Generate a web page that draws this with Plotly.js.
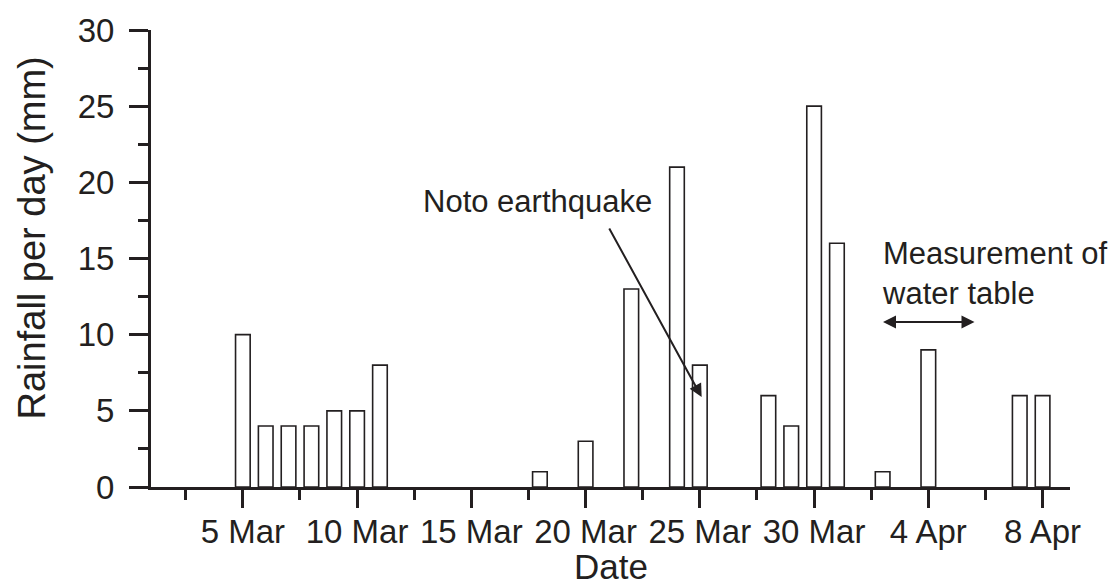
<!DOCTYPE html>
<html>
<head>
<meta charset="utf-8">
<script src="https://cdn.plot.ly/plotly-3.0.1.min.js"></script>
<style>html,body{margin:0;padding:0;background:#fff;}#chart{width:1113px;height:588px;}</style>
</head>
<body>
<div id="chart"></div>
<script>
// Day numbers counted from 1 March (32 = 1 Apr)
const days = [5, 6, 7, 8, 9, 10, 11, 18, 20, 22, 24, 25, 28, 29, 30, 31, 33, 35, 39, 40];
const rainfall = [10, 4, 4, 4, 5, 5, 8, 1, 3, 13, 21, 8, 6, 4, 25, 16, 1, 9, 6, 6];
const tickPositions = [5, 10, 15, 20, 25, 30, 35, 40];
const tickLabels = ['5 Mar', '10 Mar', '15 Mar', '20 Mar', '25 Mar', '30 Mar', '4 Apr', '8 Apr'];
const xMinorTicks = [2.5, 7.5, 12.5, 17.5, 22.5, 27.5, 32.5, 37.5];
const yTicks = [0, 5, 10, 15, 20, 25, 30];
const yMinorTicks = [2.5, 7.5, 12.5, 17.5, 22.5, 27.5];
const xTitle = 'Date';
const yTitle = 'Rainfall per day (mm)';
const quakeLabel = 'Noto earthquake';
const measureLabel = 'Measurement of<br>water table';

const ink = '#231f20';
const font = 'Liberation Sans, Arial, Helvetica, sans-serif';

const trace = {
  type: 'bar',
  x: days,
  y: rainfall,
  width: 0.64,
  marker: {color: '#ffffff', line: {color: ink, width: 1.6}},
  hoverinfo: 'x+y'
};

const layout = {
  width: 1113,
  height: 588,
  margin: {l: 151, r: 43, t: 30, b: 101},
  paper_bgcolor: '#ffffff',
  plot_bgcolor: '#ffffff',
  showlegend: false,
  font: {family: font, color: ink, size: 33},
  xaxis: {
    range: [0.98, 41.2],
    tickmode: 'array',
    tickvals: tickPositions,
    ticktext: tickLabels,
    ticks: 'outside',
    ticklen: 18,
    tickwidth: 3,
    tickcolor: ink,
    showline: true,
    linewidth: 3,
    linecolor: ink,
    showgrid: false,
    zeroline: false,
    tickfont: {family: font, size: 33, color: ink},
    ticklabelstandoff: -5,
    minor: {tickmode: 'array', tickvals: xMinorTicks, ticks: 'outside', ticklen: 10, tickwidth: 3, tickcolor: ink, showgrid: false}
  },
  yaxis: {
    range: [0, 30],
    tickmode: 'array',
    tickvals: yTicks,
    ticks: 'outside',
    ticklen: 19,
    tickwidth: 3,
    tickcolor: ink,
    showline: true,
    linewidth: 3,
    linecolor: ink,
    showgrid: false,
    zeroline: false,
    tickfont: {family: font, size: 33, color: ink},
    ticklabelstandoff: 8,
    minor: {tickmode: 'array', tickvals: yMinorTicks, ticks: 'outside', ticklen: 10, tickwidth: 3, tickcolor: ink, showgrid: false}
  },
  annotations: [
    {
      x: 0.5, y: -0.2188, xref: 'paper', yref: 'paper',
      text: xTitle, showarrow: false,
      xanchor: 'center', yanchor: 'bottom', borderpad: 0,
      font: {family: font, size: 35, color: ink}
    },
    {
      x: -0.13, y: 0.545, xref: 'paper', yref: 'paper',
      text: yTitle, showarrow: false, textangle: -90,
      xanchor: 'center', yanchor: 'middle',
      font: {family: font, size: 38, color: ink}
    },
    {
      x: 17.88, y: 18.75, xref: 'x', yref: 'y',
      text: quakeLabel, showarrow: false,
      xanchor: 'center', yanchor: 'middle',
      font: {family: font, size: 31, color: ink}
    },
    {
      x: 25.08, y: 5.9, xref: 'x', yref: 'y',
      ax: 21.0, ay: 17.07, axref: 'x', ayref: 'y',
      text: '', showarrow: true,
      arrowhead: 2, arrowsize: 1.3, arrowwidth: 2, arrowcolor: ink
    },
    {
      x: 32.87, y: 14.0, xref: 'x', yref: 'y',
      text: measureLabel, showarrow: false,
      xanchor: 'left', yanchor: 'middle', align: 'left',
      font: {family: font, size: 31, color: ink}
    },
    {
      x: 37.02, y: 10.83, xref: 'x', yref: 'y',
      ax: 32.95, ay: 10.83, axref: 'x', ayref: 'y',
      text: '', showarrow: true, arrowside: 'end+start',
      arrowhead: 2, arrowsize: 1.3, arrowwidth: 2, arrowcolor: ink
    }
  ]
};

Plotly.newPlot('chart', [trace], layout, {displayModeBar: false, staticPlot: true});
</script>
</body>
</html>
